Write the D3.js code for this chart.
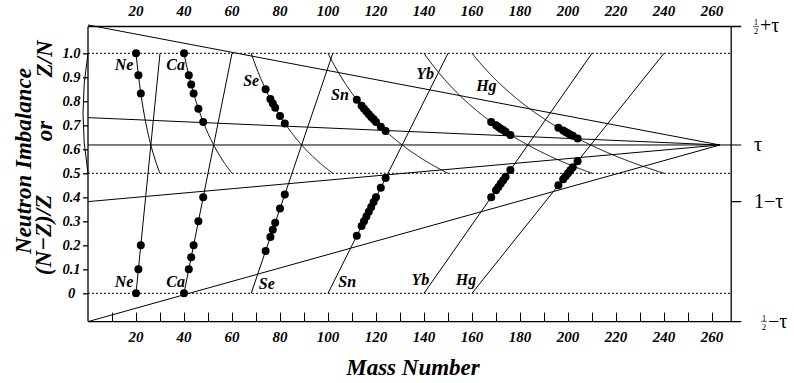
<!DOCTYPE html>
<html>
<head>
<meta charset="utf-8">
<script src="https://cdn.jsdelivr.net/npm/d3@7/dist/d3.min.js"></script>
<style>
  html, body { margin: 0; padding: 0; background: #fff; }
  svg { display: block; }
  text { font-family: "Liberation Serif", "DejaVu Serif", serif; fill: #000; }
</style>
</head>
<body>
<svg id="chart" width="794" height="383"></svg>
<script>
// ---------------- data ----------------
const TAU = 0.618;
const xTicks = [20, 40, 60, 80, 100, 120, 140, 160, 180, 200, 220, 240, 260];
const yTicks = [0, 0.1, 0.2, 0.3, 0.4, 0.5, 0.6, 0.7, 0.8, 0.9, 1.0];
const yTickLabels = ["0", "0.1", "0.2", "0.3", "0.4", "0.5", "0.6", "0.7", "0.8", "0.9", "1.0"];
const elements = ["Ne", "Ca", "Se", "Sn", "Yb", "Hg"];
const protonNumbers = [10, 20, 34, 50, 70, 80];

// stable isotopes: mass numbers, Z/N values and (N-Z)/Z values
const massNe = [20, 21, 22];
const znNe   = [1.000, 0.909, 0.833];
const imbNe  = [0.000, 0.100, 0.200];

const massCa = [40, 42, 43, 44, 46, 48];
const znCa   = [1.000, 0.909, 0.870, 0.833, 0.769, 0.714];
const imbCa  = [0.000, 0.100, 0.150, 0.200, 0.300, 0.400];

const massSe = [74, 76, 77, 78, 80, 82];
const znSe   = [0.850, 0.810, 0.791, 0.773, 0.739, 0.708];
const imbSe  = [0.176, 0.235, 0.265, 0.294, 0.353, 0.412];

const massSn = [112, 114, 115, 116, 117, 118, 119, 120, 122, 124];
const znSn   = [0.806, 0.781, 0.769, 0.758, 0.746, 0.735, 0.725, 0.714, 0.694, 0.676];
const imbSn  = [0.240, 0.280, 0.300, 0.320, 0.340, 0.360, 0.380, 0.400, 0.440, 0.480];

const massYb = [168, 170, 171, 172, 173, 174, 176];
const znYb   = [0.714, 0.700, 0.693, 0.686, 0.680, 0.673, 0.660];
const imbYb  = [0.400, 0.429, 0.443, 0.457, 0.471, 0.486, 0.514];

const massHg = [196, 198, 199, 200, 201, 202, 204];
const znHg   = [0.690, 0.678, 0.672, 0.667, 0.661, 0.656, 0.645];
const imbHg  = [0.450, 0.475, 0.488, 0.500, 0.513, 0.525, 0.550];

// converging guide lines: start value at A=0, all meet at (convergeA, TAU)
const convergeA = 263.3;
const guideStarts = [0.5 + TAU, 0.732, 1 - TAU, 0.5 - TAU];
const dottedLevels = [0, 0.5, 1.0];
const rightLabels = [
  { v: 0.5 + TAU, frac: true, rest: "+\u03C4" },
  { v: TAU, frac: false, rest: "\u03C4" },
  { v: 1 - TAU, frac: false, rest: "1\u2212\u03C4" },
  { v: 0.5 - TAU, frac: true, rest: "\u2212\u03C4" }
];
// label positions (mass number, value) for the element names
const upperLabelA = [15.0, 36.5, 68.0, 105.0, 140.5, 166.0];
const upperLabelV = [0.930, 0.930, 0.865, 0.805, 0.895, 0.845];
const lowerLabelA = [15.0, 36.5, 74.5, 108.0, 138.5, 157.5];
const lowerLabelV = [0.028, 0.028, 0.018, 0.028, 0.036, 0.036];

// ---------------- drawing ----------------
const svg = d3.select("#chart");
const xMin = 0, xMax = 268;
const x = d3.scaleLinear().domain([xMin, xMax]).range([88, 88 + 2.4 * (xMax - xMin)]);
const y = d3.scaleLinear().domain([0, 1]).range([293.3, 53.3]);
const yTop = 0.5 + TAU, yBot = 0.5 - TAU;

const left = x(xMin), right = x(xMax);
const g = svg.append("g");

// dotted reference lines
dottedLevels.forEach(v => {
  g.append("line")
    .attr("x1", left).attr("x2", right)
    .attr("y1", y(v)).attr("y2", y(v))
    .attr("stroke", "#000").attr("stroke-width", 1)
    .attr("stroke-dasharray", "2,2");
});

// converging guide lines
guideStarts.forEach(v => {
  g.append("line")
    .attr("x1", x(0)).attr("y1", y(v))
    .attr("x2", x(convergeA)).attr("y2", y(TAU))
    .attr("stroke", "#000").attr("stroke-width", 1);
});
// tau horizontal, extends out as a tick
g.append("line")
  .attr("x1", left).attr("x2", right + 10)
  .attr("y1", y(TAU)).attr("y2", y(TAU))
  .attr("stroke", "#000").attr("stroke-width", 1);

// small arc at left between 1.0 and 0.5
g.append("path")
  .attr("d", `M${left},${y(1)} Q${left - 10},${(y(1) + y(0.5)) / 2} ${left},${y(0.5)}`)
  .attr("fill", "none").attr("stroke", "#000").attr("stroke-width", 1);

// element guide curves
const lineGen = d3.line().x(d => x(d[0])).y(d => y(d[1]));
protonNumbers.forEach(Z => {
  const zn = d3.range(2 * Z, 3 * Z + 0.001, 0.25).map(A => [A, Z / (A - Z)]);
  g.append("path").attr("d", lineGen(zn))
    .attr("fill", "none").attr("stroke", "#000").attr("stroke-width", 1);
  const imb = [[2 * Z, 0], [3 * Z, 1]];
  g.append("path").attr("d", lineGen(imb))
    .attr("fill", "none").attr("stroke", "#000").attr("stroke-width", 1);
});

// isotope dots
const masses = [massNe, massCa, massSe, massSn, massYb, massHg];
const zns = [znNe, znCa, znSe, znSn, znYb, znHg];
const imbs = [imbNe, imbCa, imbSe, imbSn, imbYb, imbHg];
masses.forEach((ms, i) => {
  ms.forEach((A, j) => {
    g.append("circle").attr("cx", x(A)).attr("cy", y(zns[i][j])).attr("r", 4).attr("fill", "#000");
    g.append("circle").attr("cx", x(A)).attr("cy", y(imbs[i][j])).attr("r", 4).attr("fill", "#000");
  });
});

// element labels
const labStyle = sel => sel.attr("font-size", 16).attr("font-weight", "bold")
  .attr("font-style", "italic").attr("text-anchor", "middle");
elements.forEach((el, i) => {
  g.append("text").call(labStyle)
    .attr("x", x(upperLabelA[i])).attr("y", y(upperLabelV[i])).text(el);
  g.append("text").call(labStyle)
    .attr("x", x(lowerLabelA[i])).attr("y", y(lowerLabelV[i])).text(el);
});

// frame
const frameTop = y(yTop) + 1.5;
g.append("line").attr("x1", left).attr("x2", right + 10).attr("y1", frameTop).attr("y2", frameTop)
  .attr("stroke", "#000").attr("stroke-width", 1.3);
g.append("line").attr("x1", left).attr("x2", right + 10).attr("y1", y(yBot)).attr("y2", y(yBot))
  .attr("stroke", "#000").attr("stroke-width", 1.3);
g.append("line").attr("x1", left).attr("x2", left).attr("y1", frameTop).attr("y2", y(yBot))
  .attr("stroke", "#000").attr("stroke-width", 1.3);
g.append("line").attr("x1", right).attr("x2", right).attr("y1", frameTop).attr("y2", y(yBot))
  .attr("stroke", "#000").attr("stroke-width", 1.3);
// 1 - tau tick
g.append("line").attr("x1", right).attr("x2", right + 10).attr("y1", y(1 - TAU)).attr("y2", y(1 - TAU))
  .attr("stroke", "#000").attr("stroke-width", 1.3);

// bottom axis: inward ticks
const bottomAxis = d3.axisTop(x).tickValues(d3.range(10, 261, 10)).tickSize(9).tickFormat("");
const ba = svg.append("g").attr("transform", `translate(0,${y(yBot)})`).call(bottomAxis);
ba.select(".domain").remove();
ba.selectAll(".tick line").attr("stroke", "#000").attr("stroke-width", 1);

// bottom and top labels
const tickLab = sel => sel.attr("font-size", 15).attr("font-weight", "bold")
  .attr("font-style", "italic").attr("text-anchor", "middle");
xTicks.forEach(t => {
  svg.append("text").call(tickLab).attr("x", x(t)).attr("y", 342).text(t);
  svg.append("text").call(tickLab).attr("x", x(t)).attr("y", 16).text(t);
});

// left axis ticks (outward) and labels
const leftAxis = d3.axisLeft(y).tickValues(yTicks).tickSize(5).tickFormat("");
const la = svg.append("g").attr("transform", `translate(${left},0)`).call(leftAxis);
la.select(".domain").remove();
la.selectAll(".tick line").attr("stroke", "#000").attr("stroke-width", 1.3);
yTicks.forEach((t, i) => {
  svg.append("text").call(tickLab).attr("font-size", 14.5)
    .attr("x", 71.5).attr("y", y(t) + 5).text(yTickLabels[i]);
});

// right labels
rightLabels.forEach(r => {
  const cy = r.v > 1 ? frameTop : y(r.v);
  let tx = 754;
  if (r.frac) {
    const fx = r.v > 0.5 ? 756 : 764;
    svg.append("text").attr("x", fx).attr("y", cy - 1).attr("font-size", 9)
      .attr("text-anchor", "middle").text("1");
    svg.append("line").attr("x1", fx - 3).attr("x2", fx + 3).attr("y1", cy).attr("y2", cy)
      .attr("stroke", "#000").attr("stroke-width", 0.6);
    svg.append("text").attr("x", fx).attr("y", cy + 8).attr("font-size", 9)
      .attr("text-anchor", "middle").text("2");
    tx = fx + 4;
  }
  svg.append("text").attr("x", tx).attr("y", cy + 6).attr("font-size", 20).text(r.rest);
});

// axis titles
const titleStyle = sel => sel.attr("font-size", 23).attr("font-weight", "bold")
  .attr("font-style", "italic").attr("text-anchor", "middle");
svg.append("text").call(titleStyle).attr("x", 413).attr("y", 375).text("Mass Number");
svg.append("text").call(titleStyle).attr("transform", "translate(31,161) rotate(-90)").text("Neutron Imbalance");
svg.append("text").call(titleStyle).attr("transform", "translate(52,59) rotate(-90)").text("Z/N");
svg.append("text").call(titleStyle).attr("transform", "translate(52,131) rotate(-90)").text("or");
svg.append("text").call(titleStyle).attr("transform", "translate(51,235) rotate(-90)").text("(N\u2212Z)/Z");
</script>
</body>
</html>
